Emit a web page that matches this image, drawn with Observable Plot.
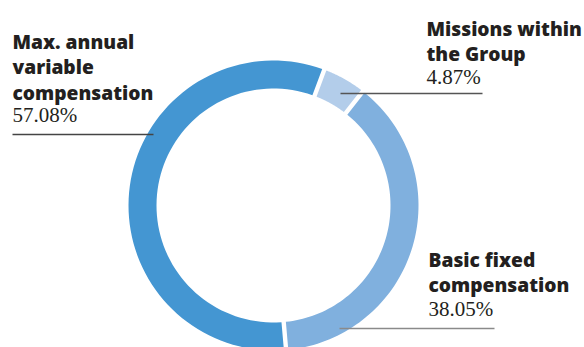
<!DOCTYPE html>
<html>
<head>
<meta charset="utf-8">
<script src="https://cdn.jsdelivr.net/npm/d3@7"></script>
<script src="https://cdn.jsdelivr.net/npm/@observablehq/plot@0.6"></script>
<style>
  html, body { margin: 0; padding: 0; background: #fff; }
  svg { display: block; }
</style>
</head>
<body>
<div id="chart"></div>
<script>
// ---- data ----
const categories = ["Missions within the Group", "Basic fixed compensation", "Max. annual variable compensation"];
const labelLines = ["Missions within\nthe Group", "Basic fixed\ncompensation", "Max. annual\nvariable\ncompensation"];
const values = [4.87, 38.05, 57.08];
const pctLabels = ["4.87%", "38.05%", "57.08%"];
const colors = ["#b3cdea", "#80b0de", "#4496d2"];

// ---- layout (pixels relative to donut centre, y downward) ----
const startDeg = 20.5;
const outerR = 145, innerR = 117, halfGap = 2.2;
const labelX = [153, 155, -261];
const labelTop = [-188, 43, -175];
const pctTop = [-136, 96, -98];
const ruleY = [-112, 123, -71];
const ruleX1 = [67, 66, -261];
const ruleX2 = [209, 221, -120];
const ruleColor = ["#555", "#8a8a8a", "#444"];

// build slice polygons from values
const total = d3.sum(values);
let acc = startDeg * Math.PI / 180;
const slices = values.map((v, i) => {
  const a0 = acc, a1 = acc + v / total * 2 * Math.PI;
  acc = a1;
  const pts = [];
  const n = 80;
  const o0 = a0 + halfGap / outerR, o1 = a1 - halfGap / outerR;
  for (let k = 0; k <= n; k++) {
    const a = o0 + (o1 - o0) * k / n;
    pts.push({x: outerR * Math.sin(a), y: -outerR * Math.cos(a)});
  }
  const i0 = a0 + halfGap / innerR, i1 = a1 - halfGap / innerR;
  for (let k = n; k >= 0; k--) {
    const a = i0 + (i1 - i0) * k / n;
    pts.push({x: innerR * Math.sin(a), y: -innerR * Math.cos(a)});
  }
  return {name: categories[i], color: colors[i], pts};
});

const labels = categories.map((c, i) => ({
  text: labelLines[i], pct: pctLabels[i], x: labelX[i], y: labelTop[i], py: pctTop[i],
  ry: ruleY[i], rx1: ruleX1[i], rx2: ruleX2[i], rc: ruleColor[i]
}));

const chart = Plot.plot({
  width: 584,
  height: 347,
  margin: 0,
  x: {domain: [-273, 311], range: [0, 584], axis: null},
  y: {domain: [-205, 142], range: [0, 347], axis: null},
  marks: [
    ...slices.map(s => Plot.line(s.pts, {x: "x", y: "y", fill: s.color, stroke: "none", curve: "linear"})),
    Plot.link(labels, {x1: "rx1", x2: "rx2", y1: "ry", y2: "ry", stroke: "rc", strokeWidth: 1.6}),
    Plot.text(labels, {
      x: "x", y: "y", text: "text", textAnchor: "start", lineAnchor: "top",
      fontFamily: "Open Sans", fontWeight: 800, fontSize: 19.2, lineHeight: 1.33, fill: "#231f20"
    }),
    Plot.text(labels, {
      x: "x", y: "py", text: "pct", textAnchor: "start", lineAnchor: "top",
      fontFamily: "Liberation Serif", fontSize: 21, fill: "#231f20"
    })
  ]
});
document.getElementById("chart").appendChild(chart);
</script>
</body>
</html>
